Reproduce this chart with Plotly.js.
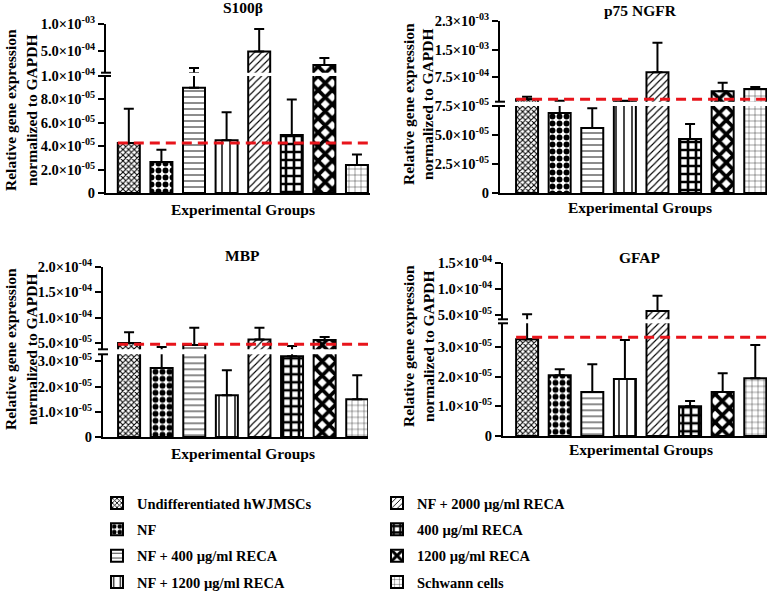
<!DOCTYPE html>
<html><head><meta charset="utf-8">
<script src="https://cdn.plot.ly/plotly-3.0.1.min.js"></script>
<style>body{margin:0;background:#fff}#chart{width:778px;height:591px}</style>
</head><body><div id="chart"></div>
<script>
// ---------------- DATA ----------------
const groups = ['Undifferentiated hWJMSCs', 'NF', 'NF + 400 µg/ml RECA', 'NF + 1200 µg/ml RECA',
                'NF + 2000 µg/ml RECA', '400 µg/ml RECA', '1200 µg/ml RECA', 'Schwann cells'];

const s100b_mean = [4.27e-5, 2.65e-5, 9.0e-5, 4.5e-5, 4.9e-4, 4.96e-5, 2.42e-4, 2.4e-5];
const s100b_sem  = [2.93e-5, 1.05e-5, 9.7e-5, 2.4e-5, 4.18e-4, 3.04e-5, 1.28e-4, 0.9e-5];
const s100b_ref  = 4.27e-5;
const s100b_lowTicks = [0, 2e-5, 4e-5, 6e-5, 8e-5, 1e-4];
const s100b_lowLabels = ['0', '2.0×10|-05', '4.0×10|-05', '6.0×10|-05', '8.0×10|-05', '1.0×10|-04'];
const s100b_upTicks = [5e-4, 1e-3];
const s100b_upLabels = ['5.0×10|-04', '1.0×10|-03'];

const p75_mean = [1.4e-4, 6.9e-5, 5.6e-5, 7.8e-5, 8.9e-4, 4.66e-5, 3.6e-4, 4.25e-4];
const p75_sem  = [7.0e-5, 3.4e-5, 1.7e-5, 2.2e-5, 8.1e-4, 1.29e-5, 2.4e-4, 5.5e-5];
const p75_ref  = 1.4e-4;
const p75_lowTicks = [0, 2.5e-5, 5e-5, 7.5e-5];
const p75_lowLabels = ['0', '2.5×10|-05', '5.0×10|-05', '7.5×10|-05'];
const p75_upTicks = [7.5e-4, 1.5e-3, 2.3e-3];
const p75_upLabels = ['7.5×10|-04', '1.5×10|-03', '2.3×10|-03'];

const mbp_mean = [5.0e-5, 2.74e-5, 4.6e-5, 1.66e-5, 5.7e-5, 3.2e-5, 5.6e-5, 1.5e-5];
const mbp_sem  = [2.1e-5, 1.46e-5, 3.4e-5, 0.99e-5, 2.3e-5, 1.2e-5, 0.6e-5, 0.95e-5];
const mbp_ref  = 4.74e-5;
const mbp_lowTicks = [0, 1e-5, 2e-5, 3e-5];
const mbp_lowLabels = ['0', '1.0×10|-05', '2.0×10|-05', '3.0×10|-05'];
const mbp_upTicks = [5e-5, 1e-4, 1.5e-4, 2e-4];
const mbp_upLabels = ['5.0×10|-05', '1.0×10|-04', '1.5×10|-04', '2.0×10|-04'];

const gfap_mean = [3.26e-5, 2.05e-5, 1.48e-5, 1.92e-5, 5.77e-5, 1.0e-5, 1.48e-5, 1.95e-5];
const gfap_sem  = [1.87e-5, 0.2e-5, 0.94e-5, 1.32e-5, 2.93e-5, 0.18e-5, 0.64e-5, 1.12e-5];
const gfap_ref  = 3.33e-5;
const gfap_lowTicks = [0, 1e-5, 2e-5, 3e-5];
const gfap_lowLabels = ['0', '1.0×10|-05', '2.0×10|-05', '3.0×10|-05'];
const gfap_upTicks = [5e-5, 1e-4, 1.5e-4];
const gfap_upLabels = ['5.0×10|-05', '1.0×10|-04', '1.5×10|-04'];

const panelTitles = ['S100β', 'p75 NGFR', 'MBP', 'GFAP'];
const xTitle = 'Experimental Groups';
const yTitle1 = 'Relative gene expression';
const yTitle2 = 'normalized to GAPDH';

// ---------------- STYLE / LAYOUT ----------------
const W = 778, H = 591;
const FONT = '"Liberation Serif", "Times New Roman", Times, serif';
const px = v => v / W;
const py = v => 1 - v / H;
const barW = 0.675;
// tick label "mantissa|exponent" -> rich text with a superscript exponent
const fmtTick = s => {
  const parts = s.split('|');
  return parts.length < 2 ? parts[0] : parts[0] + '<sup>' + parts[1] + '</sup>';
};

const patterns = [
  {shape: 'x', size: 4, solidity: 0.45},
  {shape: '.', size: 7, solidity: 0.55},
  {shape: '-', size: 6, solidity: 0.15},
  {shape: '|', size: 8, solidity: 0.18},
  {shape: '/', size: 5, solidity: 0.22},
  {shape: '+', size: 8, solidity: 0.55},
  {shape: 'x', size: 10, solidity: 0.6},
  {shape: '+', size: 6, solidity: 0.12}
];

const panels = [
  {mean: s100b_mean, sem: s100b_sem, ref: s100b_ref, lt: s100b_lowTicks, ll: s100b_lowLabels, ut: s100b_upTicks, ul: s100b_upLabels,
   g: {x0: 106, x1: 370, lowB: 193, lowT: 76, upB: 72.7, upT: 24}, xr: [-0.7, 7.4], lowR: [0, 1e-4], upR: [1e-4, 1e-3],
   title: [243, 8], xt: [243, 209], yt: [10, 31, 110]},
  {mean: p75_mean, sem: p75_sem, ref: p75_ref, lt: p75_lowTicks, ll: p75_lowLabels, ut: p75_upTicks, ul: p75_upLabels,
   g: {x0: 500, x1: 767, lowB: 193, lowT: 106, upB: 101.7, upT: 21}, xr: [-0.83, 7.36], lowR: [0, 7.5e-5], upR: [7.5e-5, 2.3e-3],
   title: [640, 10], xt: [640, 207], yt: [408, 427, 104]},
  {mean: mbp_mean, sem: mbp_sem, ref: mbp_ref, lt: mbp_lowTicks, ll: mbp_lowLabels, ut: mbp_upTicks, ul: mbp_upLabels,
   g: {x0: 103, x1: 368, lowB: 437, lowT: 354.3, upB: 349.3, upT: 267}, xr: [-0.8, 7.33], lowR: [0, 3.28e-5], upR: [3.76e-5, 2e-4],
   title: [243, 255], xt: [243, 453], yt: [10, 31, 349]},
  {mean: gfap_mean, sem: gfap_sem, ref: gfap_ref, lt: gfap_lowTicks, ll: gfap_lowLabels, ut: gfap_upTicks, ul: gfap_upLabels,
   g: {x0: 503, x1: 767, lowB: 436, lowT: 323.3, upB: 319.3, upT: 263}, xr: [-0.74, 7.36], lowR: [0, 3.8e-5], upR: [4.17e-5, 1.5e-4],
   title: [640, 257], xt: [641, 450], yt: [408, 428, 346]}
];

const traces = [];
const legFont = {family: FONT, size: 14.5, weight: 'bold', color: '#000'};
const layout = {
  width: W, height: H, margin: {l: 0, r: 0, t: 0, b: 0, autoexpand: false},
  paper_bgcolor: '#fff', plot_bgcolor: 'rgba(0,0,0,0)',
  barmode: 'overlay', showlegend: true,
  font: {family: FONT, color: '#000'},
  shapes: [], annotations: [],
  legend: {x: px(97), xanchor: 'left', y: py(487), yanchor: 'top', tracegroupgap: 4.5,
           font: legFont, bgcolor: 'rgba(0,0,0,0)'},
  legend2: {x: px(377), xanchor: 'left', y: py(487), yanchor: 'top', tracegroupgap: 4.5,
           font: legFont, bgcolor: 'rgba(0,0,0,0)'}
};

const tickFont = {family: FONT, size: 14.5, weight: 'bold', color: '#000'};
const titleFont = {family: FONT, size: 15.5, weight: 'bold', color: '#000'};

panels.forEach((p, i) => {
  const xn = i + 1, yl = 2 * i + 1, yu = 2 * i + 2;
  const xk = 'xaxis' + (xn === 1 ? '' : xn);
  const xid = 'x' + (xn === 1 ? '' : xn);
  const ylid = 'y' + (yl === 1 ? '' : yl), yuid = 'y' + yu;
  const G = p.g;
  layout[xk] = {domain: [px(G.x0), px(G.x1)], range: p.xr, type: 'category',
    categoryorder: 'array', categoryarray: groups, anchor: ylid,
    showline: true, linewidth: 2, linecolor: '#000', ticks: '', showticklabels: false,
    showgrid: false, zeroline: false, fixedrange: true};
  const yBase = {anchor: xid, showline: true, linewidth: 2, linecolor: '#000', ticks: 'outside',
    ticklen: 6, tickwidth: 2, tickcolor: '#000', tickmode: 'array', tickfont: tickFont,
    showgrid: false, zeroline: false, fixedrange: true};
  layout['yaxis' + (yl === 1 ? '' : yl)] = Object.assign({}, yBase,
    {domain: [py(G.lowB), py(G.lowT)], range: p.lowR, tickvals: p.lt, ticktext: p.ll.map(fmtTick)});
  layout['yaxis' + yu] = Object.assign({}, yBase,
    {domain: [py(G.upB), py(G.upT)], range: p.upR, tickvals: p.ut, ticktext: p.ul.map(fmtTick)});

  [ylid, yuid].forEach((yid, k) => {
    groups.forEach((gname, gi) => {
      const m = p.mean[gi], e = p.sem[gi];
      // each segment only shows the bar / error bar parts that fall inside it
      const hideBar = (k === 1 && m < p.upR[0]);
      const showErr = k === 0 ? (m <= p.lowR[1]) : (m + e >= p.upR[0]);
      traces.push({
        type: 'bar', name: gname, x: [gname], y: [m], width: barW,
        xaxis: xid, yaxis: yid,
        marker: hideBar ? {color: 'rgba(0,0,0,0)', line: {width: 0}} :
                {color: '#fff', line: {color: '#000', width: 2},
                 pattern: Object.assign({fgcolor: '#000', bgcolor: '#fff', fillmode: 'replace'}, patterns[gi])},
        error_y: {visible: showErr, type: 'data', symmetric: false, array: [e], arrayminus: [0],
                  color: '#000', thickness: 2, width: 5},
        showlegend: (i === 0 && k === 0),
        legend: gi < 4 ? 'legend' : 'legend2',
        legendgroup: 'g' + gi, hoverinfo: 'skip'
      });
    });
  });

  // reference dashed line (placed on whichever segment holds the value)
  layout.shapes.push({type: 'line', xref: xid, yref: p.ref <= p.lowR[1] ? ylid : yuid,
    x0: -barW / 2, x1: groups.length - 1 + barW / 2, y0: p.ref, y1: p.ref,
    line: {color: '#e8141b', width: 3, dash: '10px,6px'}, layer: 'above'});

  // axis break marks
  [G.lowT, G.upB].forEach(yy => {
    layout.shapes.push({type: 'line', xref: 'paper', yref: 'paper',
      x0: px(G.x0 - 5), x1: px(G.x0 + 5), y0: py(yy), y1: py(yy),
      line: {color: '#000', width: 2}});
  });

  // titles
  layout.annotations.push({text: panelTitles[i], x: px(p.title[0]), y: py(p.title[1]), xref: 'paper', yref: 'paper',
    xanchor: 'center', yanchor: 'middle', showarrow: false, font: titleFont});
  layout.annotations.push({text: xTitle, x: px(p.xt[0]), y: py(p.xt[1]), xref: 'paper', yref: 'paper',
    xanchor: 'center', yanchor: 'middle', showarrow: false, font: titleFont});
  [yTitle1, yTitle2].forEach((t, j) => {
    layout.annotations.push({text: t, textangle: -90, x: px(p.yt[j]), y: py(p.yt[2]), xref: 'paper', yref: 'paper',
      xanchor: 'center', yanchor: 'middle', showarrow: false, font: titleFont});
  });
});

Plotly.newPlot('chart', traces, layout, {displayModeBar: false, staticPlot: true});
</script></body></html>
